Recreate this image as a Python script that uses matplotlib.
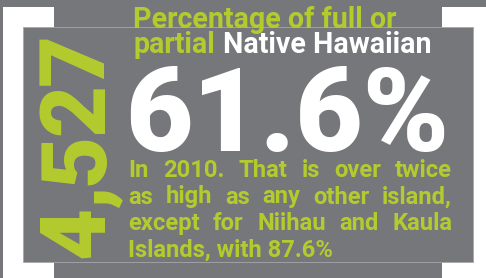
import matplotlib
matplotlib.use("Agg")
import matplotlib.pyplot as plt
from matplotlib.patches import Rectangle

# =====================================================
# CONTENT
# =====================================================

count_label = "4,527"
big_value = "61.6%"

title_line1 = "Percentage of full or"
title_line2_green = "partial"
title_line2_white = "Native Hawaiian"

body_lines = [
    "In 2010. That is over twice",
    "as high as any other island,",
    "except for Niihau and Kaula",
    "Islands, with 87.6%",
]

# =====================================================
# STYLE
# =====================================================

BG = "#76777b"
GREEN = "#b4cb2e"
WHITE = "#ffffff"
FONT = "Roboto"

fig = plt.figure(figsize=(4.86, 2.78), dpi=100)
fig.patch.set_facecolor(BG)

ax = fig.add_axes([0, 0, 1, 1])
ax.set_xlim(0, 486)
ax.set_ylim(278, 0)
ax.axis("off")

# brackets (white blocks, covered by the inner panel)
ax.add_patch(Rectangle((3, 7), 51, 271, facecolor=WHITE, lw=0))
ax.add_patch(Rectangle((442, 7), 44, 271, facecolor=WHITE, lw=0))
ax.add_patch(Rectangle((23, 27), 450, 235,
                       facecolor=BG, edgecolor="#a6a7aa", lw=0.6))

renderer = fig.canvas.get_renderer()


def add_text(s, x, y, color, size=20, weight="bold", **kw):
    return ax.text(x, y, s, fontsize=size, color=color,
                   family=FONT, weight=weight,
                   ha="left", va="baseline", **kw)


def fit_width(t, target):
    w = t.get_window_extent(renderer).width
    t.set_fontsize(t.get_fontsize() * target / w)
    return t


# =====================================================
# TITLE
# =====================================================

t1 = fit_width(add_text(title_line1, 133, 28, GREEN), 263)
size_title = t1.get_fontsize()

add_text(title_line2_green, 133, 53, GREEN, size_title)
add_text(title_line2_white, 223, 53, WHITE, size_title)

# =====================================================
# BIG NUMBER
# =====================================================

fit_width(add_text(big_value, 125, 151, WHITE, weight="black"), 323)

# =====================================================
# ROTATED COUNT (tracked out, read bottom to top)
# =====================================================

size_count = 64 / 0.711 * 72 / 100
y_bottom, y_top = 258, 33

chars = []
for c in count_label:
    t = add_text(c, 103, 0, GREEN, size_count, weight="black",
                 rotation=90, rotation_mode="anchor")
    chars.append((t, t.get_window_extent(renderer).height))

track = (y_bottom - y_top - sum(h for _, h in chars)) / (len(chars) - 1)

y = y_bottom
for t, h in chars:
    t.set_y(y)
    y -= h + track

# =====================================================
# BODY (justified)
# =====================================================

last = fit_width(add_text(body_lines[-1], 128, 257, GREEN), 205)
size_body = last.get_fontsize()

baselines = [177, 203.5, 230]
x0, x1 = 128, 452

for line, yb in zip(body_lines[:-1], baselines):

    words = line.split()
    items = []

    for w in words:
        t = add_text(w, 0, yb, GREEN, size_body)
        items.append((t, t.get_window_extent(renderer).width))

    gap = (x1 - x0 - sum(w for _, w in items)) / (len(items) - 1)

    x = x0
    for t, w in items:
        t.set_x(x)
        x += w + gap

fig.savefig("out.png", dpi=100, facecolor=BG)
